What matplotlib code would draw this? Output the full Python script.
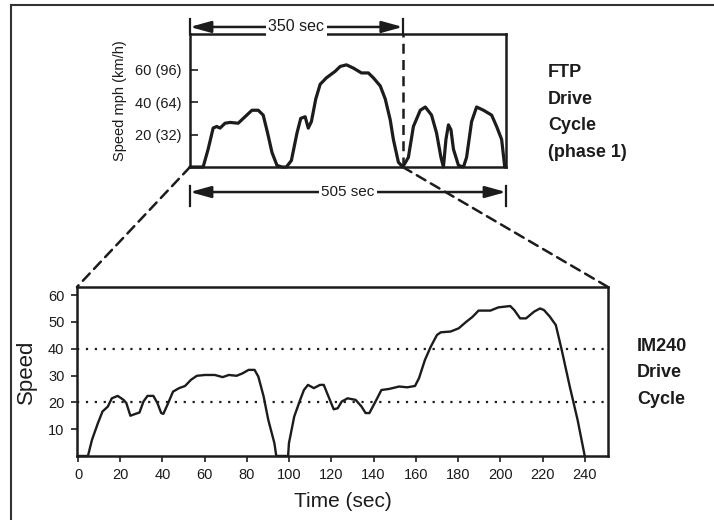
import matplotlib
matplotlib.use("Agg")
import matplotlib.pyplot as plt
from matplotlib.patches import ConnectionPatch
from matplotlib.lines import Line2D
import matplotlib.transforms as mtransforms

plt.rcParams["font.family"] = ["Liberation Sans", "DejaVu Sans"]

# ---------------------------------------------------------------------
# Data
# ---------------------------------------------------------------------
# FTP phase 1 (top panel), time in sec, speed in mph
ftp_time = [0, 21, 29, 37, 42.6, 48, 56, 64, 77, 88, 99, 109, 117, 124, 131,
            139, 147, 154, 162, 171, 177, 184, 189, 194, 201, 208, 218, 232,
            240, 250, 261, 274, 285, 293, 304, 312, 320, 325, 333, 340, 349,
            357, 368, 376, 386, 394, 401, 405, 409, 413, 417, 421, 429, 437,
            442, 450, 458, 469, 482, 490, 498, 503]
ftp_speed = [0, 0, 11, 24, 25, 24, 27, 27.5, 27, 31, 35, 35, 32, 21, 9,
             1, 0, 0, 4, 21, 30, 31, 24, 28, 42, 51, 55, 59,
             62, 63, 61, 58, 58, 55, 50, 42, 29, 17, 3, 0, 6,
             25, 35, 37, 32, 21, 6, 0, 17, 26, 23, 11, 1, 0,
             6, 28, 37, 35, 32, 25, 17, 0]
ftp_ticks = [20, 40, 60]
ftp_tick_labels = ["20 (32)", "40 (64)", "60 (96)"]
ftp_total = 505
ftp_split = 340          # where the "350 sec" marker sits on the drawing

# IM240 (bottom panel)
im_time = [0, 4.7, 6.6, 9.4, 11.6, 14.1, 16, 18.8, 21.6, 22.9, 24.8, 27.2,
           29.1, 31, 32.9, 35.7, 37.6, 39.4, 40.4, 42.3, 45, 47.9, 50.7,
           53.5, 56.3, 60.1, 64.8, 68.5, 71.4, 75.1, 77.9, 80.8, 83.6, 85.4,
           87.9, 90.1, 93, 93.9, 99.5, 99.9, 102.4, 105.2, 107, 108.9, 111.7,
           114.6, 116.4, 118.3, 121.1, 123, 124.9, 127.7, 131.5, 134.3, 136.2,
           138, 140.9, 143.7, 147.4, 152.1, 155.9, 159.6, 161.5, 164.3, 167.1,
           170, 171.8, 176.5, 180.3, 184, 186.9, 189.7, 195.3, 199.1, 204.7,
           206.6, 209.4, 212.2, 216, 218.8, 220.7, 223.5, 226.3, 229.1, 232.9,
           236.6, 240]
im_speed = [0, 0, 6, 12.2, 16.6, 18.4, 21.5, 22.4, 20.9, 19.7, 15, 15.7,
            16.2, 20.3, 22.4, 22.4, 19.7, 16, 15.7, 19, 24, 25.3, 26.1,
            28.4, 29.9, 30.2, 30.2, 29.4, 30.2, 29.9, 30.8, 32.1, 32.1, 29.6,
            22.2, 13.5, 4.8, 0, 0, 4.8, 14.7, 20.9, 24.6, 26.5, 25.3,
            26.5, 26.5, 22.8, 17.4, 17.8, 20.3, 21.5, 20.9, 18.4, 16,
            16, 20.3, 24.6, 25, 25.9, 25.6, 26.1, 29, 35.8, 40.8,
            45.1, 46.1, 46.4, 47.6, 50.1, 51.9, 54.2, 54.2, 55.4, 55.9,
            54.4, 51.3, 51.3, 53.8, 55, 54.4, 51.9, 48.8, 39.5, 25.9,
            13.5, 0]
im_xticks = list(range(0, 241, 20))
im_yticks = [10, 20, 30, 40, 50, 60]
im_ref_lines = [20, 40]

INK = "#1c1c1c"

fig = plt.figure(figsize=(7.14, 5.2), dpi=100)

# outer frame (left + top only, rest cropped)
fig.add_artist(Line2D([11 / 714, 11 / 714], [0, 1 - 5 / 520], color="#333333", lw=1.5))
fig.add_artist(Line2D([11 / 714, 1], [1 - 5 / 520, 1 - 5 / 520], color="#333333", lw=1.5))

# ---------------------------------------------------------------------
# Top panel: FTP
# ---------------------------------------------------------------------
ax1 = fig.add_axes([0.2661, 0.6788, 0.4426, 0.2558])
ax1.plot(ftp_time, ftp_speed, color=INK, lw=2.3, clip_on=False,
         solid_capstyle="round", solid_joinstyle="round")
ax1.set_xlim(0, ftp_total)
ax1.set_ylim(0, 82)
ax1.set_xticks([])
ax1.set_yticks(ftp_ticks)
ax1.set_yticklabels(ftp_tick_labels, fontsize=10.5)
ax1.tick_params(axis="y", direction="in", length=6, width=1.2, pad=6, colors=INK)
ax1.set_ylabel("Speed mph (km/h)", fontsize=10.5, labelpad=6, color=INK)
for s in ax1.spines.values():
    s.set_linewidth(1.8)
    s.set_color(INK)

tr1 = mtransforms.blended_transform_factory(ax1.transData, ax1.transAxes)

# 350 sec marker
ax1.annotate("", xy=(0, 1.053), xytext=(ftp_split, 1.053), xycoords=tr1, textcoords=tr1,
             arrowprops=dict(arrowstyle="<|-|>,head_length=0.9,head_width=0.25", color=INK,
                             lw=1.8, mutation_scale=14, shrinkA=0, shrinkB=0))
ax1.plot([0, 0], [1.0, 1.11], color=INK, lw=1.6, transform=tr1, clip_on=False)
ax1.plot([ftp_split, ftp_split], [1.0, 1.11], color=INK, lw=1.6, transform=tr1, clip_on=False)
ax1.plot([ftp_split, ftp_split], [0, 1.0], color=INK, lw=1.8, ls=(0, (4, 2.5)),
         transform=tr1, clip_on=False)
ax1.text(ftp_split / 2, 1.053, "350 sec", transform=tr1, ha="center", va="center",
         fontsize=11.5, color=INK, bbox=dict(fc="white", ec="none", pad=2))

# 505 sec marker
ax1.annotate("", xy=(0, -0.188), xytext=(ftp_total, -0.188), xycoords=tr1, textcoords=tr1,
             arrowprops=dict(arrowstyle="<|-|>,head_length=0.9,head_width=0.25", color=INK,
                             lw=1.8, mutation_scale=14, shrinkA=0, shrinkB=0))
ax1.plot([0, 0], [-0.14, -0.29], color=INK, lw=1.6, transform=tr1, clip_on=False)
ax1.plot([ftp_total, ftp_total], [-0.14, -0.29], color=INK, lw=1.6, transform=tr1, clip_on=False)
ax1.text(ftp_total / 2, -0.188, "505 sec", transform=tr1, ha="center", va="center",
         fontsize=11, color=INK, bbox=dict(fc="white", ec="none", pad=2))

fig.text(0.7675, 0.7837, "FTP\nDrive\nCycle\n(phase 1)", fontsize=13, fontweight="bold",
         color=INK, ha="left", va="center", linespacing=1.72)

# ---------------------------------------------------------------------
# Bottom panel: IM240
# ---------------------------------------------------------------------
ax2 = fig.add_axes([0.1078, 0.1231, 0.7437, 0.325])
ax2.plot(im_time, im_speed, color=INK, lw=1.7, clip_on=False)
for y in im_ref_lines:
    ax2.axhline(y, color=INK, lw=1.6, ls=(0, (1, 3)))
ax2.set_xlim(-0.5, 251)
ax2.set_ylim(0, 63)
ax2.set_xticks(im_xticks)
ax2.set_yticks(im_yticks)
ax2.tick_params(direction="out", length=4, width=1.2, labelsize=10.5, colors=INK, pad=5)
ax2.set_xlabel("Time (sec)", fontsize=15, color=INK, labelpad=7)
ax2.set_ylabel("Speed", fontsize=16, color=INK, labelpad=8)
for s in ax2.spines.values():
    s.set_linewidth(1.8)
    s.set_color(INK)

fig.text(0.892, 0.283, "IM240\nDrive\nCycle", fontsize=13, fontweight="bold",
         color=INK, ha="left", va="center", linespacing=1.72)

# zoom lines from top panel to bottom panel
for xa, xb in [(0, (0, 1)), (ftp_split, (1, 1))]:
    con = ConnectionPatch(xyA=(xa, 0), coordsA=tr1,
                          xyB=xb, coordsB=ax2.transAxes,
                          color=INK, lw=1.8, ls=(0, (4, 2.5)))
    fig.add_artist(con)

fig.savefig("out.png", dpi=100)
